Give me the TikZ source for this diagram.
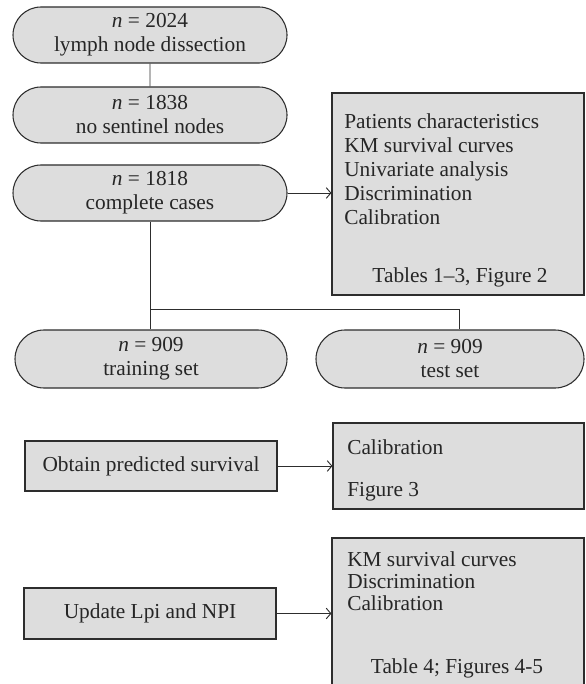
\documentclass[tikz,border=0pt]{standalone}
\usepackage{fontspec}
\setmainfont{Liberation Serif}
\usepackage{tikz}
\usetikzlibrary{positioning, shapes.misc, calc, arrows.meta}
\definecolor{boxgray}{RGB}{221,221,221}
\definecolor{linegray}{RGB}{45,45,45}
\tikzset{
    stadium/.style={rounded rectangle, draw=linegray, fill=boxgray, line width=0.8pt, align=center, minimum width=205.5pt, minimum height=42pt, inner sep=0pt},
    setnode/.style={stadium, minimum height=43.5pt},
    procbox/.style={rectangle, draw=linegray, fill=boxgray, line width=0.8pt, minimum width=189pt, minimum height=37.5pt, inner sep=0pt},
    resbox/.style={rectangle, draw=linegray, fill=boxgray, line width=0.8pt, inner sep=0pt},
    restext/.style={anchor=north west, align=left, inner sep=0pt},
    conn/.style={draw=linegray, line width=0.7pt},
    tip/.style={-{Straight Barb[length=3.5pt, width=8pt, line width=0.7pt]}},
}

\begin{document}
\begin{tikzpicture}[x=0.75pt, y=-0.75pt,
    every node/.append style={font=\fontsize{16}{18}\selectfont, text=black!85}]
    \useasboundingbox (0,0) rectangle (585,684);
    \clip (0,0) rectangle (585,684);

    %Cohort selection
    \node[stadium] (dis) at (150,35) {\textit{n} = 2024\\lymph node dissection};
    \node[stadium] (sen) at (150,115) {\textit{n} = 1838\\no sentinel nodes};
    \node[stadium] (cc) at (150,193) {\textit{n} = 1818\\complete cases};
    \draw[conn] (dis) -- (sen);

    %First results box
    \node[resbox, minimum width=189pt, minimum height=151.5pt] (res1) at (458,194) {};
    \node[restext] (res1txt) at (344,113) {Patients characteristics\\KM survival curves\\Univariate analysis\\Discrimination\\Calibration};
    \node (res1ref) at (460,277) {Tables 1--3, Figure 2};
    \draw[conn,tip] (cc.east) -- (cc.east -| res1.west);

    %Random split
    \node[setnode, minimum width=204pt] (train) at (151,359) {\textit{n} = 909\\training set};
    \node[setnode, minimum width=201pt] (test) at (450,359) {\textit{n} = 909\\test set};
    \coordinate (split) at (150,309);
    \draw[conn] (cc.south) -- (cc.south |- train.north);
    \draw[conn] (split) -| ([xshift=6.75pt]test.north);

    %Predicted survival
    \node[procbox] (pred) at (151,466) {Obtain predicted survival};
    \node[resbox, minimum width=188.25pt, minimum height=64.5pt] (res2) at (458.5,466) {};
    \node[restext, anchor=base west] (res2cal) at (347,454) {Calibration};
    \node[restext, anchor=base west] (res2ref) at (347,496) {Figure 3};
    \draw[conn,tip] (pred) -- (res2);

    %Updated indices
    \node[procbox, minimum height=38.25pt] (upd) at (150,613.5) {Update Lpi and NPI};
    \node[resbox, minimum width=189pt, minimum height=120pt] (res3) at (458,618) {};
    \node[restext, font=\fontsize{16}{16.5}\selectfont] (res3txt) at (347,551) {KM survival curves\\Discrimination\\Calibration};
    \node (res3ref) at (457,668) {Table 4; Figures 4-5};
    \draw[conn,tip] (upd.east) -- (upd.east -| res3.west);
\end{tikzpicture}
\end{document}
